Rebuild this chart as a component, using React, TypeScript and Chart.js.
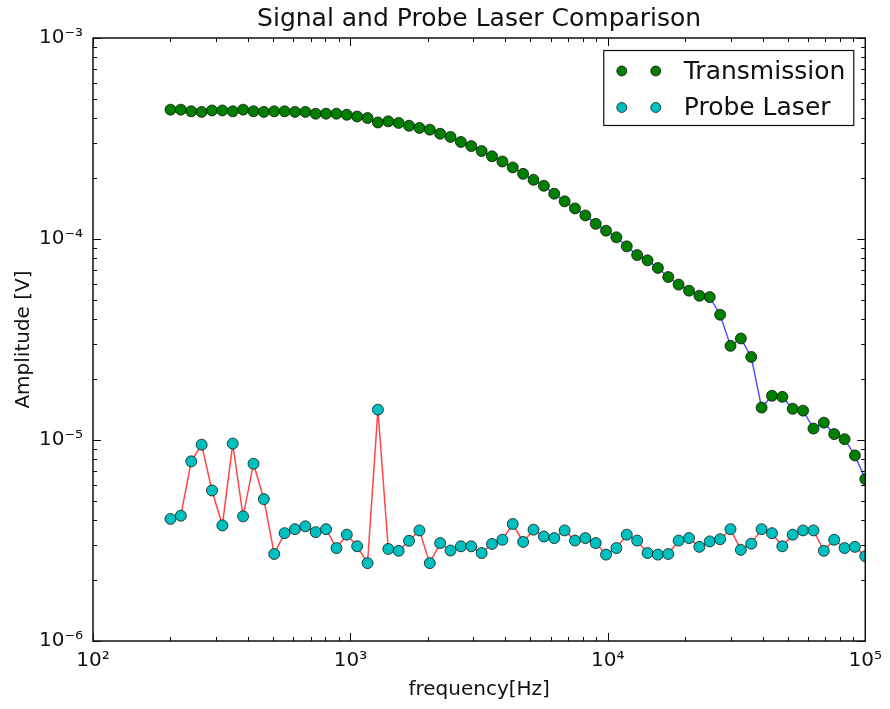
import React, { useEffect, useRef } from 'react';
import { Chart, registerables } from 'chart.js';

Chart.register(...registerables);

const FONT = "'DejaVu Sans', sans-serif";

const frequencies = [
  200, 219.4, 240.8, 264.2, 289.9, 318.1, 349.0, 382.9, 420.2, 461.0,
  505.8, 555.0, 608.9, 668.1, 732.8, 804.1, 882.4, 968.3, 1062, 1165.5,
  1278.7, 1403, 1539.4, 1689.1, 1853.4, 2033.5, 2231.3, 2448.2, 2686.2, 2947.6,
  3233.9, 3548.4, 3893.5, 4271.8, 4687.3, 5142.9, 5642.9, 6191.3, 6793.7, 7454.1,
  8178.6, 8974.3, 9838.5, 10795, 11845, 12996, 14259, 15646, 17167, 18835,
  20667, 22676, 24880, 27300, 29953, 32863, 36060, 39564, 43407, 47628,
  52257, 57336, 62913, 69027, 75735, 83101, 91152, 100000,
];

const transmission = [
  4.40e-4, 4.40e-4, 4.32e-4, 4.29e-4, 4.36e-4, 4.36e-4, 4.32e-4, 4.40e-4, 4.32e-4, 4.29e-4,
  4.32e-4, 4.32e-4, 4.29e-4, 4.29e-4, 4.20e-4, 4.20e-4, 4.20e-4, 4.15e-4, 4.07e-4, 4.00e-4,
  3.80e-4, 3.85e-4, 3.78e-4, 3.66e-4, 3.57e-4, 3.50e-4, 3.34e-4, 3.22e-4, 3.04e-4, 2.90e-4,
  2.74e-4, 2.58e-4, 2.43e-4, 2.27e-4, 2.11e-4, 1.97e-4, 1.84e-4, 1.68e-4, 1.54e-4, 1.42e-4,
  1.31e-4, 1.19e-4, 1.10e-4, 1.02e-4, 9.19e-5, 8.32e-5, 7.83e-5, 7.18e-5, 6.47e-5, 5.93e-5,
  5.53e-5, 5.22e-5, 5.14e-5, 4.20e-5, 2.94e-5, 3.20e-5, 2.59e-5, 1.45e-5, 1.66e-5, 1.64e-5,
  1.43e-5, 1.40e-5, 1.14e-5, 1.22e-5, 1.07e-5, 1.01e-5, 8.38e-6, 6.39e-6,
];

const probeLaser = [
  4.05e-6, 4.20e-6, 7.83e-6, 9.48e-6, 5.61e-6, 3.76e-6, 9.60e-6, 4.17e-6, 7.62e-6, 5.08e-6,
  2.71e-6, 3.44e-6, 3.60e-6, 3.72e-6, 3.48e-6, 3.60e-6, 2.90e-6, 3.38e-6, 2.96e-6, 2.44e-6,
  1.416e-5, 2.87e-6, 2.81e-6, 3.15e-6, 3.55e-6, 2.44e-6, 3.07e-6, 2.82e-6, 2.96e-6, 2.96e-6,
  2.74e-6, 3.04e-6, 3.19e-6, 3.82e-6, 3.11e-6, 3.58e-6, 3.31e-6, 3.25e-6, 3.55e-6, 3.16e-6,
  3.25e-6, 3.07e-6, 2.69e-6, 2.90e-6, 3.38e-6, 3.16e-6, 2.74e-6, 2.69e-6, 2.71e-6, 3.16e-6,
  3.25e-6, 2.94e-6, 3.13e-6, 3.21e-6, 3.60e-6, 2.84e-6, 3.05e-6, 3.60e-6, 3.44e-6, 2.96e-6,
  3.38e-6, 3.55e-6, 3.55e-6, 2.81e-6, 3.19e-6, 2.90e-6, 2.94e-6, 2.64e-6,
];

const xTickValues = [1e2, 1e3, 1e4, 1e5];
const xTickLabels = ['10²', '10³', '10⁴', '10⁵'];
const yTickValues = [1e-6, 1e-5, 1e-4, 1e-3];
const yTickLabels = ['10⁻⁶', '10⁻⁵', '10⁻⁴', '10⁻³'];

const minorMultipliers = [2, 3, 4, 5, 6, 7, 8, 9];

const framePlugin = {
  id: 'frame',
  afterDatasetsDraw(chart: any) {
    const { ctx, chartArea } = chart;
    const { left, right, top, bottom } = chartArea;
    const xs = chart.scales.x;
    const ys = chart.scales.y;
    ctx.save();
    ctx.strokeStyle = '#000';
    ctx.lineWidth = 1;
    const drawX = (v: number, len: number) => {
      const px = Math.round(xs.getPixelForValue(v)) + 0.5;
      ctx.beginPath();
      ctx.moveTo(px, bottom);
      ctx.lineTo(px, bottom - len);
      ctx.moveTo(px, top);
      ctx.lineTo(px, top + len);
      ctx.stroke();
    };
    const drawY = (v: number, len: number) => {
      const py = Math.round(ys.getPixelForValue(v)) + 0.5;
      ctx.beginPath();
      ctx.moveTo(left, py);
      ctx.lineTo(left + len, py);
      ctx.moveTo(right, py);
      ctx.lineTo(right - len, py);
      ctx.stroke();
    };
    for (let i = 0; i < xTickValues.length; i++) {
      drawX(xTickValues[i], 8);
      if (i < xTickValues.length - 1) minorMultipliers.forEach((m) => drawX(xTickValues[i] * m, 4));
    }
    for (let i = 0; i < yTickValues.length; i++) {
      drawY(yTickValues[i], 8);
      if (i < yTickValues.length - 1) minorMultipliers.forEach((m) => drawY(yTickValues[i] * m, 4));
    }
    ctx.lineWidth = 1.5;
    ctx.strokeStyle = '#111';
    ctx.strokeRect(left, top, right - left, bottom - top);
    ctx.restore();
  },
};

const legendPlugin = {
  id: 'boxLegend',
  afterDraw(chart: any) {
    const { ctx, chartArea } = chart;
    const bw = 250;
    const bh = 75;
    const bx = chartArea.right - 12 - bw;
    const by = chartArea.top + 12;
    ctx.save();
    ctx.fillStyle = '#fff';
    ctx.fillRect(bx, by, bw, bh);
    ctx.strokeStyle = '#111';
    ctx.lineWidth = 1.2;
    ctx.strokeRect(bx + 0.5, by + 0.5, bw, bh);
    const rows = [by + 21, by + 57.5];
    chart.data.datasets.forEach((ds: any, i: number) => {
      const cy = rows[i];
      [bx + 18.5, bx + 52.5].forEach((cx) => {
        ctx.beginPath();
        ctx.arc(cx, cy, 5, 0, Math.PI * 2);
        ctx.fillStyle = ds.pointBackgroundColor;
        ctx.fill();
        ctx.lineWidth = 1;
        ctx.strokeStyle = 'rgba(0,0,0,0.7)';
        ctx.stroke();
      });
      ctx.fillStyle = '#111';
      ctx.font = `25px ${FONT}`;
      ctx.textAlign = 'left';
      ctx.textBaseline = 'middle';
      ctx.fillText(ds.label, bx + 80.5, cy + 1);
    });
    ctx.restore();
  },
};

export default function App() {
  const ref = useRef<HTMLCanvasElement>(null);
  useEffect(() => {
    const canvas = ref.current!;
    Chart.defaults.font.family = FONT;
    const chart = new Chart(canvas, {
      type: 'line',
      data: {
        datasets: [
          {
            label: 'Transmission',
            data: frequencies.map((f, i) => ({ x: f, y: transmission[i] })),
            borderColor: 'rgba(50,50,255,0.85)',
            borderWidth: 1.5,
            pointRadius: 5.5,
            pointBackgroundColor: '#007f00',
            pointBorderColor: 'rgba(0,0,0,0.7)',
            pointBorderWidth: 1,
            tension: 0,
            clip: 0,
          },
          {
            label: 'Probe Laser',
            data: frequencies.map((f, i) => ({ x: f, y: probeLaser[i] })),
            borderColor: 'rgba(255,50,50,0.9)',
            borderWidth: 1.5,
            pointRadius: 5.5,
            pointBackgroundColor: '#00bfbf',
            pointBorderColor: 'rgba(0,0,0,0.7)',
            pointBorderWidth: 1,
            tension: 0,
            clip: 0,
          },
        ],
      } as any,
      options: {
        animation: false,
        responsive: false,
        events: [],
        layout: { padding: { left: 0, right: 21, top: 0, bottom: 0 } },
        plugins: {
          legend: { display: false },
          tooltip: { enabled: false },
          title: {
            display: true,
            fullSize: false,
            text: 'Signal and Probe Laser Comparison',
            color: '#111',
            font: { size: 25, family: FONT, weight: 'normal', lineHeight: 1.2 },
            padding: { top: 4, bottom: 4 },
          },
        },
        scales: {
          x: {
            type: 'logarithmic',
            min: 100,
            max: 100000,
            grid: { display: false, drawTicks: false },
            border: { display: false },
            afterBuildTicks: (s: any) => {
              s.ticks = xTickValues.map((v) => ({ value: v }));
            },
            afterFit: (s: any) => {
              s.height = 68;
            },
            ticks: {
              autoSkip: false,
              maxRotation: 0,
              padding: 8,
              color: '#111',
              font: { size: 20 },
              callback: (_v: any, i: number) => xTickLabels[i],
            },
            title: {
              display: true,
              text: 'frequency[Hz]',
              color: '#111',
              font: { size: 20 },
              padding: { top: 0, bottom: 7 },
            },
          },
          y: {
            type: 'logarithmic',
            min: 1e-6,
            max: 1e-3,
            grid: { display: false, drawTicks: false },
            border: { display: false },
            afterBuildTicks: (s: any) => {
              s.ticks = yTickValues.map((v) => ({ value: v }));
            },
            afterFit: (s: any) => {
              s.width = 93;
            },
            ticks: {
              autoSkip: false,
              padding: 10,
              color: '#111',
              font: { size: 20 },
              callback: (_v: any, i: number) => yTickLabels[i],
            },
            title: {
              display: true,
              text: 'Amplitude [V]',
              color: '#111',
              font: { size: 20 },
              padding: { top: 12, bottom: 0 },
            },
          },
        },
      } as any,
      plugins: [framePlugin, legendPlugin],
    });
    return () => chart.destroy();
  }, []);

  return (
    <div style={{ position: 'absolute', left: 0, top: 0, width: 890, height: 709, background: '#fff' }}>
      <canvas ref={ref} width={890} height={709} style={{ display: 'block' }} />
    </div>
  );
}
